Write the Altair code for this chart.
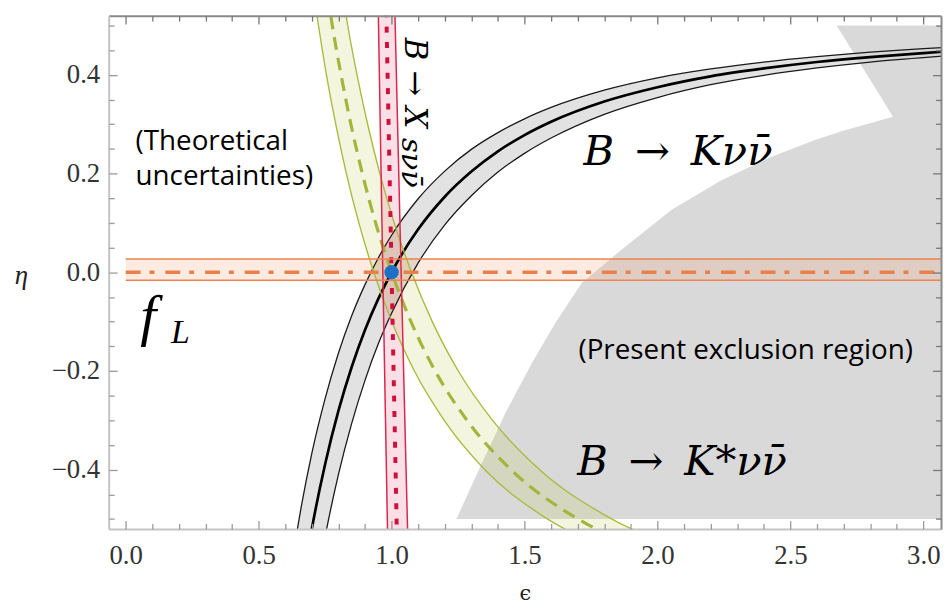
import altair as alt
import pandas as pd

# ---------------- data ----------------
# present exclusion region: left boundary (eta -> eps), extends to the right frame
excl_eta = [-0.5, -0.383, -0.283, -0.182, -0.102, -0.021, 0.046, 0.126, 0.186, 0.233, 0.267, 0.287, 0.315, 0.5]
excl_eps = [1.244, 1.343, 1.430, 1.530, 1.617, 1.716, 1.866, 2.052, 2.239, 2.425, 2.587, 2.699, 2.886, 2.674]
excl_eps_right = 3.3

# B -> K nu nubar band (eta as a function of eps)
k_eps = [0.62, 0.64, 0.66, 0.70, 0.75, 0.80, 0.85, 0.90, 0.95, 1.0, 1.1, 1.2, 1.3, 1.4, 1.5, 1.6, 1.8, 2.0, 2.2, 2.4, 2.6, 2.8, 3.0, 3.1]
k_mid = [-0.801, -0.721, -0.648, -0.520, -0.389, -0.281, -0.192, -0.117, -0.054, 0.0, 0.087, 0.153, 0.204, 0.245, 0.278, 0.305, 0.346, 0.375, 0.397, 0.413, 0.426, 0.436, 0.444, 0.448]
k_hi = [-0.606, -0.538, -0.476, -0.367, -0.256, -0.164, -0.088, -0.025, 0.029, 0.075, 0.149, 0.205, 0.249, 0.283, 0.311, 0.334, 0.369, 0.394, 0.412, 0.426, 0.437, 0.446, 0.453, 0.456]
k_lo = [-1.015, -0.922, -0.837, -0.689, -0.536, -0.410, -0.306, -0.219, -0.145, -0.083, 0.019, 0.096, 0.155, 0.203, 0.241, 0.272, 0.320, 0.354, 0.380, 0.399, 0.414, 0.426, 0.435, 0.439]

# B -> K* nu nubar band (eps as a function of eta)
ks_eta = [-0.56, -0.5, -0.4, -0.3, -0.2, -0.1, 0.0, 0.1, 0.2, 0.3, 0.4, 0.5, 0.56]
ks_mid = [1.937, 1.702, 1.449, 1.284, 1.164, 1.073, 1.0, 0.940, 0.890, 0.847, 0.810, 0.777, 0.760]
ks_left = [1.807, 1.587, 1.351, 1.198, 1.086, 1.001, 0.933, 0.877, 0.830, 0.790, 0.755, 0.725, 0.708]
ks_right = [2.082, 1.829, 1.557, 1.380, 1.251, 1.153, 1.075, 1.010, 0.956, 0.910, 0.870, 0.835, 0.817]

# B -> X_s nu nubar band
xs_eta = [-0.56, 0.0, 0.56]
xs_mid = [1.021, 1.0, 0.979]
xs_left = [0.986, 0.967, 0.949]
xs_right = [1.062, 1.036, 1.011]

# f_L band (horizontal)
fl_mid = 0.0
fl_lo = -0.016
fl_hi = 0.027
fl_eps = [0.0, 3.3]

# Standard Model point
sm_eps = [1.0]
sm_eta = [0.0]

# ticks
x_major = [0.0, 0.5, 1.0, 1.5, 2.0, 2.5, 3.0]
x_minor = [0.1, 0.2, 0.3, 0.4, 0.6, 0.7, 0.8, 0.9, 1.1, 1.2, 1.3, 1.4, 1.6, 1.7, 1.8, 1.9,
           2.1, 2.2, 2.3, 2.4, 2.6, 2.7, 2.8, 2.9]
y_major = [-0.4, -0.2, 0.0, 0.2, 0.4]
y_minor = [-0.5, -0.45, -0.35, -0.3, -0.25, -0.15, -0.1, -0.05, 0.05, 0.1, 0.15, 0.25, 0.3, 0.35, 0.45, 0.5]

# text labels
theo_text = ["(Theoretical", "uncertainties)"]
theo_eps = [0.037, 0.037]
theo_eta = [0.248, 0.176]
excl_label = ["(Present exclusion region)"]
excl_label_pos = [1.703, -0.175]
k_label = ["B\u2002\u2192\u2002K\u03bd\u03bd\u0304"]
k_label_pos = [1.722, 0.2165]
ks_label = ["B\u2002\u2192\u2002K*\u03bd\u03bd\u0304"]
ks_label_pos = [1.698, -0.410]
f_label = ["f"]
f_label_pos = [0.055, -0.127]
l_label = ["L"]
l_label_pos = [0.170, -0.143]
xs_label1 = ["B\u2004\u2192\u2004X"]
xs_label1_pos = [1.051, 0.475]
xs_label2 = ["s\u03bd\u03bd\u0304"]
xs_label2_pos = [1.040, 0.272]

# ---------------- geometry ----------------
W, H = 839, 517.4
XS = alt.Scale(domain=[-0.064, 3.0666], nice=False, zero=False)
YS = alt.Scale(domain=[-0.52, 0.52], nice=False, zero=False)

SERIF = "Liberation Serif, serif"
MATH = "DejaVu Serif"
SANS = "Open Sans"


def X(field, axis=None):
    if axis is None:
        return alt.X(field, type="quantitative", scale=XS, axis=None)
    return alt.X(field, type="quantitative", scale=XS, axis=axis)


def Y(field, axis=None):
    if axis is None:
        return alt.Y(field, type="quantitative", scale=YS, axis=None)
    return alt.Y(field, type="quantitative", scale=YS, axis=axis)


# ---------------- data frames ----------------
excl_df = pd.DataFrame({"eta": excl_eta, "eps": excl_eps, "eps2": [excl_eps_right] * len(excl_eta)})
k_df = pd.DataFrame({"eps": k_eps, "mid": k_mid, "hi": k_hi, "lo": k_lo})
k_edges = pd.concat([
    pd.DataFrame({"eps": k_eps, "eta": k_hi, "which": "hi"}),
    pd.DataFrame({"eps": k_eps, "eta": k_lo, "which": "lo"}),
])
ks_df = pd.DataFrame({"eta": ks_eta, "mid": ks_mid, "left": ks_left, "right": ks_right})
ks_edges = pd.concat([
    pd.DataFrame({"eta": ks_eta, "eps": ks_left, "which": "l"}),
    pd.DataFrame({"eta": ks_eta, "eps": ks_right, "which": "r"}),
])
xs_df = pd.DataFrame({"eta": xs_eta, "mid": xs_mid, "left": xs_left, "right": xs_right})
xs_edges = pd.concat([
    pd.DataFrame({"eta": xs_eta, "eps": xs_left, "which": "l"}),
    pd.DataFrame({"eta": xs_eta, "eps": xs_right, "which": "r"}),
])
fl_band = pd.DataFrame({"e0": [fl_eps[0]], "e1": [fl_eps[1]], "lo": [fl_lo], "hi": [fl_hi]})
fl_edges = pd.DataFrame({"e0": [fl_eps[0]] * 2, "e1": [fl_eps[1]] * 2, "eta": [fl_lo, fl_hi]})
fl_center = pd.DataFrame({"e0": [fl_eps[0]], "e1": [fl_eps[1]], "eta": [fl_mid]})
sm_df = pd.DataFrame({"eps": sm_eps, "eta": sm_eta})

# ---------------- marks ----------------
layers = []

layers.append(alt.Chart(excl_df).mark_area(orient="horizontal", color="#d9d9d9", clip=True)
              .encode(y=Y("eta"), x=X("eps"), x2="eps2"))

layers.append(alt.Chart(k_df).mark_area(color="#d6d6d6", opacity=0.7, interpolate="monotone", clip=True)
              .encode(x=X("eps"), y=Y("lo"), y2="hi"))
layers.append(alt.Chart(ks_df).mark_area(orient="horizontal", color="#c6cd5e", opacity=0.2,
                                         interpolate="monotone", clip=True)
              .encode(y=Y("eta"), x=X("left"), x2="right"))
layers.append(alt.Chart(xs_df).mark_area(orient="horizontal", color="#ee6f8c", opacity=0.22, clip=True)
              .encode(y=Y("eta"), x=X("left"), x2="right"))
layers.append(alt.Chart(fl_band).mark_rect(color="#f5a178", opacity=0.22, clip=True)
              .encode(x=X("e0"), x2="e1", y=Y("lo"), y2="hi"))

# K lines
layers.append(alt.Chart(k_edges).mark_line(color="#1a1a1a", strokeWidth=1.3, interpolate="monotone", clip=True)
              .encode(x=X("eps"), y=Y("eta"), detail="which:N"))
layers.append(alt.Chart(k_df).mark_line(color="#000000", strokeWidth=2.7, interpolate="monotone", clip=True)
              .encode(x=X("eps"), y=Y("mid")))
# K* lines
layers.append(alt.Chart(ks_edges).mark_line(color="#a9bb3e", strokeWidth=1.4, interpolate="monotone", clip=True)
              .encode(x=X("eps"), y=Y("eta"), detail="which:N"))
layers.append(alt.Chart(ks_df).mark_line(color="#a3b53a", strokeWidth=3.2, strokeDash=[13, 8],
                                         interpolate="monotone", clip=True)
              .encode(x=X("mid"), y=Y("eta")))
# X_s lines
layers.append(alt.Chart(xs_edges).mark_line(color="#d8284e", strokeWidth=1.5, clip=True)
              .encode(x=X("eps"), y=Y("eta"), detail="which:N"))
layers.append(alt.Chart(xs_df).mark_line(color="#d10f3c", strokeWidth=4, strokeDash=[6, 9.5], clip=True)
              .encode(x=X("mid"), y=Y("eta")))
# f_L lines
layers.append(alt.Chart(fl_edges).mark_rule(color="#ec834f", strokeWidth=1.5, clip=True)
              .encode(x=X("e0"), x2="e1", y=Y("eta")))
layers.append(alt.Chart(fl_center).mark_rule(color="#e8804a", strokeWidth=3.6, strokeDash=[15, 9, 5, 11], clip=True)
              .encode(x=X("e0"), x2="e1", y=Y("eta")))
# SM point
layers.append(alt.Chart(sm_df).mark_circle(color="#1e70c6", size=210, opacity=1)
              .encode(x=X("eps"), y=Y("eta")))


def text_layer(texts, xs_, ys_, **kw):
    df = pd.DataFrame({"t": texts, "eps": xs_, "eta": ys_})
    return alt.Chart(df).mark_text(align="left", baseline="alphabetic", color="#000000", **kw).encode(
        x=X("eps"), y=Y("eta"), text="t:N")


layers.append(text_layer(theo_text, theo_eps, theo_eta, font=SANS, fontSize=28))
layers.append(text_layer(excl_label, [excl_label_pos[0]], [excl_label_pos[1]], font=SANS, fontSize=28))
layers.append(text_layer(k_label, [k_label_pos[0]], [k_label_pos[1]], font=MATH, fontStyle="italic", fontSize=42))
layers.append(text_layer(ks_label, [ks_label_pos[0]], [ks_label_pos[1]], font=MATH, fontStyle="italic", fontSize=42))
layers.append(text_layer(f_label, [f_label_pos[0]], [f_label_pos[1]], font=SERIF, fontStyle="italic", fontSize=58))
layers.append(text_layer(l_label, [l_label_pos[0]], [l_label_pos[1]], font=SERIF, fontStyle="italic", fontSize=34))
layers.append(text_layer(xs_label1, [xs_label1_pos[0]], [xs_label1_pos[1]], font=MATH, fontStyle="italic",
                         fontSize=31, angle=90))
layers.append(text_layer(xs_label2, [xs_label2_pos[0]], [xs_label2_pos[1]], font=MATH, fontStyle="italic",
                         fontSize=29, angle=90))

# ---------------- frame & ticks (axes) ----------------
LIGHT = "#c4c4c4"
DARK = "#8a8a8a"
MAJ, MIN = 8.5, 5.5


def ax(orient, values, offset, **kw):
    base = dict(orient=orient, values=values, offset=offset, grid=False, title="", zindex=1,
                labels=False, domain=False, ticks=True)
    base.update(kw)
    return alt.Axis(**base)


x_axes = [
    ax("bottom", x_major, 0, ticks=False, domain=True, domainColor=LIGHT, domainWidth=2,
       labels=True, format=".1f", labelFont=SERIF, labelFontSize=27, labelColor="#333333",
       labelPadding=14, labelFlush=False, labelOverlap=False,
       title="\u03f5", titleFont="DejaVu Serif", titleFontSize=21, titleFontWeight="normal",
       titleColor="#222222", titleX=W / 2, titleY=71, titleBaseline="alphabetic", titleAlign="center"),
    ax("bottom", x_major, -MAJ, tickSize=MAJ, tickColor="#9a9a9a", tickWidth=1.3),
    ax("bottom", x_minor, -MIN, tickSize=MIN, tickColor="#9a9a9a", tickWidth=1.3),
    ax("top", x_major, 0, ticks=False, domain=True, domainColor=DARK, domainWidth=2),
    ax("top", x_major, -MAJ, tickSize=MAJ, tickColor="#777777", tickWidth=1.3),
    ax("top", x_minor, -MIN, tickSize=MIN, tickColor="#777777", tickWidth=1.3),
]
y_axes = [
    ax("left", y_major, 0, ticks=False, domain=True, domainColor=LIGHT, domainWidth=2,
       labels=True, format=".1f", labelFont=SERIF, labelFontSize=27, labelColor="#333333",
       labelPadding=9, labelFlush=False, labelOverlap=False,
       title="\u03b7", titleFont=SERIF, titleFontStyle="italic", titleFontSize=27, titleFontWeight="normal",
       titleColor="#222222", titleAngle=0, titleX=-88.5, titleY=262, titleBaseline="middle",
       titleAlign="center"),
    ax("left", y_major, -MAJ, tickSize=MAJ, tickColor="#9a9a9a", tickWidth=1.3),
    ax("left", y_minor, -MIN, tickSize=MIN, tickColor="#9a9a9a", tickWidth=1.3),
    ax("right", y_major, 0, ticks=False, domain=True, domainColor=DARK, domainWidth=2),
    ax("right", y_major, -MAJ, tickSize=MAJ, tickColor="#777777", tickWidth=1.3),
    ax("right", y_minor, -MIN, tickSize=MIN, tickColor="#777777", tickWidth=1.3),
]
for xa, ya in zip(x_axes, y_axes):
    layers.append(alt.Chart(sm_df).mark_point(opacity=0).encode(
        x=X("eps", axis=xa), y=Y("eta", axis=ya)))

chart = alt.layer(*layers).resolve_axis(x="independent", y="independent").properties(
    width=W, height=H,
    autosize=alt.AutoSizeParams(type="none"),
    padding={"left": 101.5, "top": 5.3, "right": 2, "bottom": 78},
).configure_view(stroke=None).configure_axis(labelFont=SERIF)

chart.save("out.html", embed_options={"renderer": "svg", "actions": False})
